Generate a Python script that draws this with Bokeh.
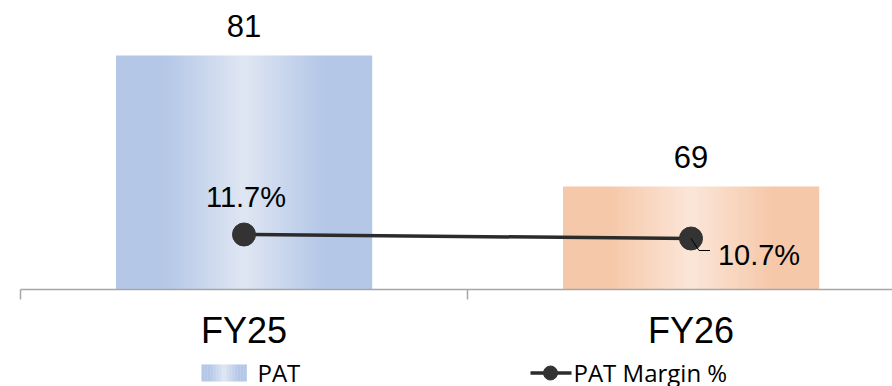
import numpy as np
from bokeh.plotting import figure
from bokeh.layouts import column
from bokeh.models import Range1d, FixedTicker, ColumnDataSource
from bokeh.core.properties import value
from bokeh.embed import file_html
from bokeh.resources import INLINE

# ---- data ----
categories = ["FY25", "FY26"]
pat = [81, 69]
pat_margin = [11.7, 10.7]
pat_labels = ["81", "69"]
margin_labels = ["11.7%", "10.7%"]
series_names = ["PAT", "PAT Margin %"]

# ---- styles ----
bar_dark = [(180, 199, 231), (246, 200, 170)]
bar_light = [(223, 230, 243), (251, 230, 216)]
LINE_COLOR = "#2b2b2b"
MARKER_COLOR = "#333333"

FRAME_W, FRAME_H = 872, 289
LEFT_PAD = 20
CAT_PX = 447.0
x_end = FRAME_W / CAT_PX
px_per_unit = 10.917
y_start = 59.57
y_end = y_start + FRAME_H / px_per_unit
px_per_pt = 4.0
y2_start = -2.05
y2_end = y2_start + FRAME_H / px_per_pt


def grad_colors(dark, light, n):
    out = []
    for j in range(n):
        t = (j + 0.5) / n
        d = abs(t - 0.5) / 0.5
        w = max(0.0, 1.0 - d / 0.62)
        rgb = tuple(int(round(dark[k] + (light[k] - dark[k]) * w)) for k in range(3))
        out.append("#%02x%02x%02x" % rgb)
    return out


p = figure(frame_width=FRAME_W, frame_height=FRAME_H,
           x_range=Range1d(0, x_end), y_range=Range1d(y_start, y_end),
           output_backend="svg", toolbar_location=None,
           y_axis_location=None,
           min_border_left=LEFT_PAD, min_border_right=0,
           min_border_top=0, min_border_bottom=70)
p.extra_y_ranges = {"pct": Range1d(y2_start, y2_end)}
p.outline_line_color = None
p.xgrid.visible = False
p.ygrid.visible = False
p.background_fill_color = "white"
p.border_fill_color = "white"

xc = [i + 0.5 for i in range(len(categories))]
bw = 256.0 / CAT_PX

# gradient bars built from narrow strips
N = 64
left, right, top, bottom, colors = [], [], [], [], []
for i, (c, v) in enumerate(zip(xc, pat)):
    cols = grad_colors(bar_dark[i], bar_light[i], N)
    for j in range(N):
        colors.append(cols[j])
        left.append(c - bw / 2 + j * bw / N)
        right.append(c - bw / 2 + (j + 1) * bw / N + 0.0005)
        top.append(v)
        bottom.append(y_start)
p.quad(left=left, right=right, top=top, bottom=bottom,
       fill_color=colors, line_color=None)

# bar labels
p.text(x=xc, y=pat, text=pat_labels, text_align="center",
       text_baseline="middle", y_offset=-30,
       text_font=value("Liberation Sans"), text_font_size="31px",
       text_color="black")

# margin line
p.line(x=xc, y=pat_margin, y_range_name="pct",
       line_color=LINE_COLOR, line_width=3.5)
p.scatter(x=xc, y=pat_margin, y_range_name="pct", size=23,
          fill_color=MARKER_COLOR, line_color=MARKER_COLOR)

# leader line for second label
lx0 = xc[1]
ly0 = pat_margin[1]
p.line(x=[lx0, lx0 + 8 / CAT_PX, lx0 + 19 / CAT_PX],
       y=[ly0, ly0 - 12 / px_per_pt, ly0 - 12 / px_per_pt],
       y_range_name="pct", line_color="black", line_width=1)

msrc = ColumnDataSource(dict(x=xc, y=pat_margin, text=margin_labels,
                             xo=[2, 68], yo=[-38, 16]))
p.text(x="x", y="y", text="text", source=msrc, y_range_name="pct",
       x_offset="xo", y_offset="yo", text_align="center",
       text_baseline="middle", text_font=value("Liberation Sans"),
       text_font_size="29px", text_color="black")

# x axis
ax = p.xaxis[0]
ax.ticker = FixedTicker(ticks=xc, minor_ticks=[0, 1, 2])
ax.major_label_overrides = {xc[i]: categories[i] for i in range(len(categories))}
ax.major_tick_line_color = None
ax.major_tick_in = 0
ax.major_tick_out = 10
ax.minor_tick_in = 0
ax.minor_tick_out = 10
ax.minor_tick_line_color = "#A6A6A6"
ax.minor_tick_line_width = 1.5
ax.axis_line_color = "#A6A6A6"
ax.axis_line_width = 1.5
ax.major_label_text_font = "Liberation Sans"
ax.major_label_text_font_size = "36px"
ax.major_label_text_color = "black"
ax.major_label_standoff = 10

# ---- legend strip (separate small figure, screen-like coordinates) ----
# the column aligns frames, so this frame also starts LEFT_PAD px in
LEG_H = 27
leg = figure(frame_width=FRAME_W, frame_height=LEG_H,
             x_range=Range1d(LEFT_PAD, LEFT_PAD + FRAME_W),
             y_range=Range1d(0, LEG_H), output_backend="svg",
             toolbar_location=None, x_axis_location=None,
             y_axis_location=None, min_border_left=LEFT_PAD,
             min_border_right=0, min_border_top=0, min_border_bottom=0)
leg.outline_line_color = None
leg.xgrid.visible = False
leg.ygrid.visible = False
leg.border_fill_color = "white"

sw_l, sw_r, sw_b, sw_t = 201, 246, 5, 22
M = 30
sw_cols = grad_colors(bar_dark[0], bar_light[0], M)
leg.quad(left=[sw_l + (sw_r - sw_l) * j / M for j in range(M)],
         right=[sw_l + (sw_r - sw_l) * (j + 1) / M + 0.3 for j in range(M)],
         top=[sw_t] * M, bottom=[sw_b] * M,
         fill_color=sw_cols, line_color=None)
leg.text(x=[257], y=[14], text=[series_names[0]], text_align="left",
         text_baseline="middle", text_font=value("Open Sans"),
         text_font_size="24px", text_color="black")
leg.line(x=[530, 571], y=[13.5, 13.5], line_color=LINE_COLOR, line_width=3.5)
leg.scatter(x=[550], y=[13.5], size=14, fill_color=MARKER_COLOR,
            line_color=MARKER_COLOR)
leg.text(x=[573], y=[14], text=[series_names[1]], text_align="left",
         text_baseline="middle", text_font=value("Open Sans"),
         text_font_size="24px", text_color="black")

layout = column(p, leg, spacing=0)
open("out.html", "w").write(file_html(layout, INLINE))
